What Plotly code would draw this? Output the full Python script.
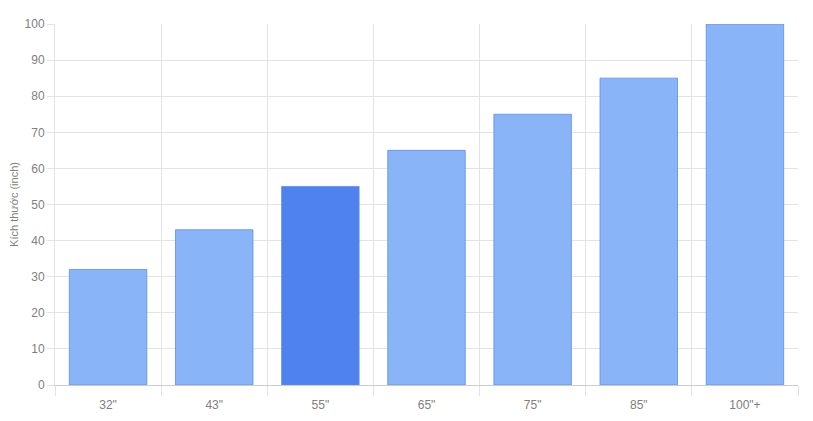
import plotly.graph_objects as go

categories = ['32"', '43"', '55"', '65"', '75"', '85"', '100"+']
values = [32, 43, 55, 65, 75, 85, 100]
highlight = '55"'

base_color = "#8ab4f8"
hi_color = "#4f82ef"
colors = [hi_color if c == highlight else base_color for c in categories]

fig = go.Figure(
    go.Bar(
        x=categories,
        y=values,
        marker=dict(color=colors, line=dict(color="#5a8dec", width=0.8)),
        hoverinfo="x+y",
    )
)

grid = "#e3e3e3"
tick_color = "#808080"
fig.update_layout(
    width=805,
    height=413,
    margin=dict(l=47, r=15, t=16, b=36),
    plot_bgcolor="white",
    paper_bgcolor="white",
    bargap=0.27,
    showlegend=False,
    font=dict(family="Liberation Sans, Arial, sans-serif", size=12, color=tick_color),
)
fig.update_xaxes(
    type="category",
    tickson="boundaries",
    showgrid=True,
    gridcolor=grid,
    gridwidth=1,
    ticks="outside",
    ticklen=10,
    tickcolor=grid,
    ticklabelstandoff=9,
    showline=True,
    linecolor="#cccccc",
    linewidth=1,
    tickfont=dict(size=12, color=tick_color),
    range=[-0.5, 6.5],
    automargin=False,
)
fig.update_yaxes(
    range=[0, 100],
    dtick=10,
    showgrid=True,
    gridcolor=grid,
    gridwidth=1,
    zeroline=False,
    ticks="outside",
    ticklen=7,
    tickcolor=grid,
    showline=True,
    linecolor=grid,
    tickfont=dict(size=12, color=tick_color),
    title=dict(text="Kích thước (inch)", font=dict(size=11, color=tick_color), standoff=10),
    automargin=False,
)

fig.write_html("out.html")
